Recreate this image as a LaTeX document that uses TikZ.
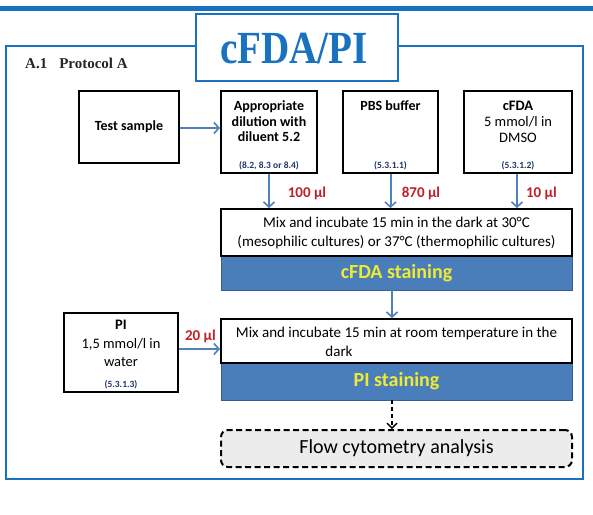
\documentclass[tikz,border=0pt]{standalone}
\usepackage{fontspec}
\setmainfont{Carlito}
\newfontfamily\titlefont{Liberation Serif}
\usetikzlibrary{arrows.meta}
\definecolor{frameblue}{RGB}{24,114,192}
\definecolor{bandblue}{RGB}{74,126,187}
\definecolor{arrowblue}{RGB}{79,129,189}
\definecolor{volred}{RGB}{192,32,40}
\definecolor{refnavy}{RGB}{31,56,100}
\definecolor{stainyellow}{RGB}{240,235,50}
\definecolor{flowgray}{RGB}{236,236,236}
\begin{document}
\begin{tikzpicture}[x=1pt,y=-1pt,
  box/.style={draw=black, line width=2pt, fill=white, inner sep=0pt, align=center},
  band/.style={draw=bandblue!75!black, line width=0.8pt, fill=bandblue, inner sep=0pt,
     minimum width=351pt, text=stainyellow, font=\bfseries\fontsize{20}{20}\selectfont},
  boldtxt/.style={font=\bfseries\fontsize{14}{15.5}\selectfont, align=center, inner sep=0pt},
  bodytxt/.style={font=\fontsize{15}{19}\selectfont, align=center, inner sep=0pt},
  reftxt/.style={font=\bfseries\fontsize{9.5}{10}\selectfont, text=refnavy, inner sep=0pt},
  vol/.style={font=\bfseries\fontsize{15}{15}\selectfont, text=volred, inner sep=0pt},
  arr/.style={draw=arrowblue, line width=2pt, -{Straight Barb[length=5pt,width=11pt,line width=1.6pt]}},
  darr/.style={draw=black, line width=1.6pt, dash pattern=on 4pt off 3pt,
     -{Straight Barb[length=5pt,width=10pt,line width=1.4pt]}}
]
\useasboundingbox (0,0) rectangle (593,514);
\fill[white] (0,0) rectangle (593,514);
% header rule and frame
\draw[frameblue, line width=4.5pt] (0,8.5) -- (593,8.5);
\draw[frameblue, line width=2pt] (6,46) rectangle (583,479);
\node[draw=frameblue, line width=2.5pt, fill=white, minimum width=202pt, minimum height=67pt, inner sep=0pt] (title) at (297,47.5) {};
\node[anchor=base, text=frameblue, inner sep=0pt, font=\titlefont\bfseries\fontsize{46}{46}\selectfont] (titletext) at (294,63) {\scalebox{0.85}[1]{cFDA/PI}};
\node[anchor=base west, inner sep=0pt, text=black!85, font=\titlefont\bfseries\fontsize{15}{15}\selectfont] (prot) at (25,68.5) {A.1\hspace{12pt}Protocol A};

% top row boxes
\node[box, minimum width=100pt, minimum height=72pt, font=\bfseries\fontsize{14}{15.5}\selectfont] (test) at (129,127) {Test sample};
\node[box, minimum width=96pt, minimum height=82pt] (dil) at (269,132) {};
\node[boldtxt] (diltxt) at (269,121.5) {Appropriate\\dilution with\\diluent 5.2};
\node[reftxt] (dilref) at (269,166) {(8.2, 8.3 or 8.4)};

\node[box, minimum width=95pt, minimum height=82pt] (pbs) at (390.5,132) {};
\node[boldtxt] (pbstxt) at (390.5,106) {PBS buffer};
\node[reftxt] (pbsref) at (390.5,166) {(5.3.1.1)};

\node[box, minimum width=108pt, minimum height=82pt] (cfda) at (518,132) {};
\node[font=\fontsize{14.5}{16}\selectfont, align=center, inner sep=0pt] (cfdatxt) at (518,122) {{\bfseries cFDA}\\5 mmol/l in\\DMSO};
\node[reftxt] (cfdaref) at (518,166) {(5.3.1.2)};

% first incubation
\node[band, minimum height=34pt] (band1) at (396.5,273) {cFDA staining};
\node[box, minimum width=351pt, minimum height=47pt, font=\fontsize{15}{19}\selectfont] (mix1) at (396.5,232.5) {Mix and incubate 15 min in the dark at 30°C\\(mesophilic cultures) or 37°C (thermophilic cultures)};

% second incubation
\node[band, minimum height=37pt] (band2) at (396.5,381.5) {PI staining};
\node[box, minimum width=351pt, minimum height=44pt] (mix2) at (396.5,341) {};
\node[bodytxt] (mix2a) at (396.5,333) {Mix and incubate 15 min at room temperature in the};
\node[bodytxt] (mix2b) at (339,351) {dark};

% PI box
\node[box, minimum width=114pt, minimum height=79pt] (pi) at (121,352.5) {};
\node[font=\fontsize{14.5}{18.5}\selectfont, align=center, inner sep=0pt] (pitxt) at (121,343.5) {{\bfseries PI}\\1,5 mmol/l in\\water};
\node[reftxt] (piref) at (121,385) {(5.3.1.3)};

% flow cytometry
\node[draw=black, line width=2pt, dash pattern=on 6pt off 3.5pt, rounded corners=7pt, fill=flowgray,
  minimum width=351pt, minimum height=37pt, inner sep=0pt, font=\fontsize{20}{20}\selectfont] (flow) at (396.5,448.5) {Flow cytometry analysis};

% connectors
\draw[arr] ([yshift=-1pt]test.east) -- ([yshift=-1pt]test.east -| dil.west);
\draw[arr] (dil.south) -- (dil.south |- mix1.north);
\draw[arr] (pbs.south) -- (pbs.south |- mix1.north);
\draw[arr] ([xshift=-1pt]cfda.south) -- ([xshift=-1pt]cfda.south |- mix1.north);
\draw[arr] ([xshift=-4.5pt]band1.south) -- ([xshift=-4.5pt]mix2.north);
\draw[arr] ([yshift=3.5pt]pi.east) -- ([yshift=3.5pt]pi.east -| mix2.west);
\draw[darr] ([xshift=-4.5pt]band2.south) -- ([xshift=-4.5pt]flow.north);

% volume labels
\node[vol] (v100) at (307,193) {100 µl};
\node[vol] (v870) at (421,193) {870 µl};
\node[vol] (v10) at (541.5,193) {10 µl};
\node[vol] (v20) at (200.5,336) {20 µl};
\end{tikzpicture}
\end{document}
